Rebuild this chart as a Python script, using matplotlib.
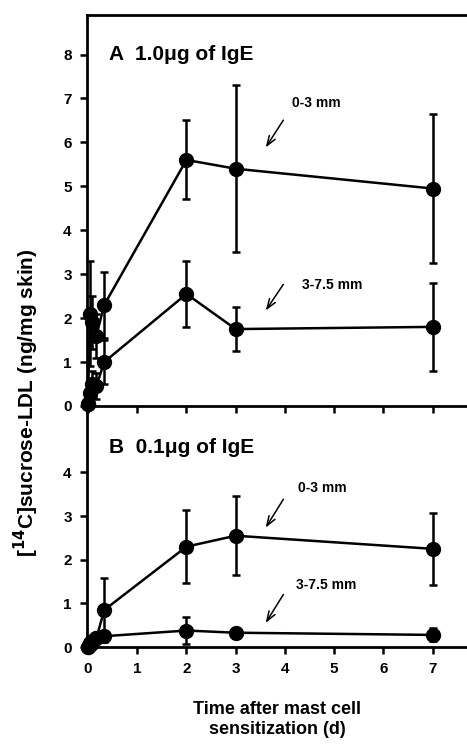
import matplotlib.pyplot as plt

# panel A: 1.0 ug IgE
xA = [0, 0.04, 0.08, 0.17, 0.33, 2, 3, 7]
a_near = [0.05, 2.1, 1.9, 1.6, 2.3, 5.6, 5.4, 4.95]
a_near_err = [0.1, 1.2, 0.6, 0.5, 0.75, 0.9, 1.9, 1.7]
a_far = [0.05, 0.3, 0.5, 0.45, 1.0, 2.55, 1.75, 1.8]
a_far_err = [0.05, 0.2, 0.3, 0.3, 0.5, 0.75, 0.5, 1.0]

# panel B: 0.1 ug IgE
xB = [0, 0.04, 0.08, 0.17, 0.33, 2, 3, 7]
b_near = [0.0, 0.1, 0.15, 0.2, 0.85, 2.3, 2.55, 2.25]
b_near_err = [0.05, 0.1, 0.1, 0.1, 0.73, 0.83, 0.9, 0.83]
b_far = [0.0, 0.05, 0.1, 0.2, 0.25, 0.38, 0.33, 0.28]
b_far_err = [0.02, 0.05, 0.05, 0.1, 0.1, 0.3, 0.08, 0.15]

xticks = [0, 1, 2, 3, 4, 5, 6, 7]

plt.rcParams['font.family'] = ['Liberation Sans', 'DejaVu Sans']
plt.rcParams['font.weight'] = 'bold'

fig = plt.figure(figsize=(4.67, 7.49), dpi=100)
axB = fig.add_axes([0.1863, 0.136, 0.8137, 0.322])
axA = fig.add_axes([0.1863, 0.458, 0.8137, 0.522])
axA.patch.set_alpha(0)

arrow = dict(arrowstyle='->,head_length=0.7,head_width=0.25', lw=1.1, color='black')

def draw(ax, x, y1, e1, y2, e2):
    for y, e in ((y1, e1), (y2, e2)):
        ax.errorbar(x, y, yerr=e, color='black', lw=1.8, marker='o', ms=10,
                    capsize=3, elinewidth=1.8, capthick=1.8, clip_on=False)
    ax.set_xlim(-0.02, 7.7)
    ax.set_xticks(xticks)
    ax.spines['right'].set_visible(False)
    for s in ax.spines.values():
        s.set_linewidth(2)
    ax.tick_params(direction='out', length=5, width=1.8, labelsize=11, pad=6)

draw(axA, xA, a_near, a_near_err, a_far, a_far_err)
axA.set_ylim(0, 8.9)
axA.set_yticks(range(0, 9))
axA.tick_params(axis='x', labelbottom=False)
axA.text(0.43, 8.0, 'A  1.0\u03bcg of IgE', fontsize=15, fontweight='bold', va='center')
axA.annotate('', xy=(3.58, 5.83), xytext=(4.0, 6.56), arrowprops=arrow)
axA.text(4.15, 6.9, '0-3 mm', fontsize=10, fontweight='bold', va='center')
axA.annotate('', xy=(3.58, 2.12), xytext=(4.0, 2.82), arrowprops=arrow)
axA.text(4.35, 2.76, '3-7.5 mm', fontsize=10, fontweight='bold', va='center')

draw(axB, xB, b_near, b_near_err, b_far, b_far_err)
axB.spines['top'].set_visible(False)
axB.set_ylim(0, 5.52)
axB.set_yticks(range(0, 5))
axB.text(0.43, 4.56, 'B  0.1\u03bcg of IgE', fontsize=15, fontweight='bold', va='center')
axB.annotate('', xy=(3.58, 2.68), xytext=(4.0, 3.44), arrowprops=arrow)
axB.text(4.27, 3.65, '0-3 mm', fontsize=10, fontweight='bold', va='center')
axB.annotate('', xy=(3.58, 0.5), xytext=(4.0, 1.26), arrowprops=arrow)
axB.text(4.23, 1.42, '3-7.5 mm', fontsize=10, fontweight='bold', va='center')
axB.set_xlabel('Time after mast cell\nsensitization (d)', fontsize=13,
               fontweight='bold', labelpad=18)

fig.text(0.056, 0.462, '[$^{\\mathbf{14}}$C]sucrose-LDL (ng/mg skin)', rotation=90,
         fontsize=15, fontweight='bold', ha='center', va='center')

fig.savefig('out.png', dpi=100)
